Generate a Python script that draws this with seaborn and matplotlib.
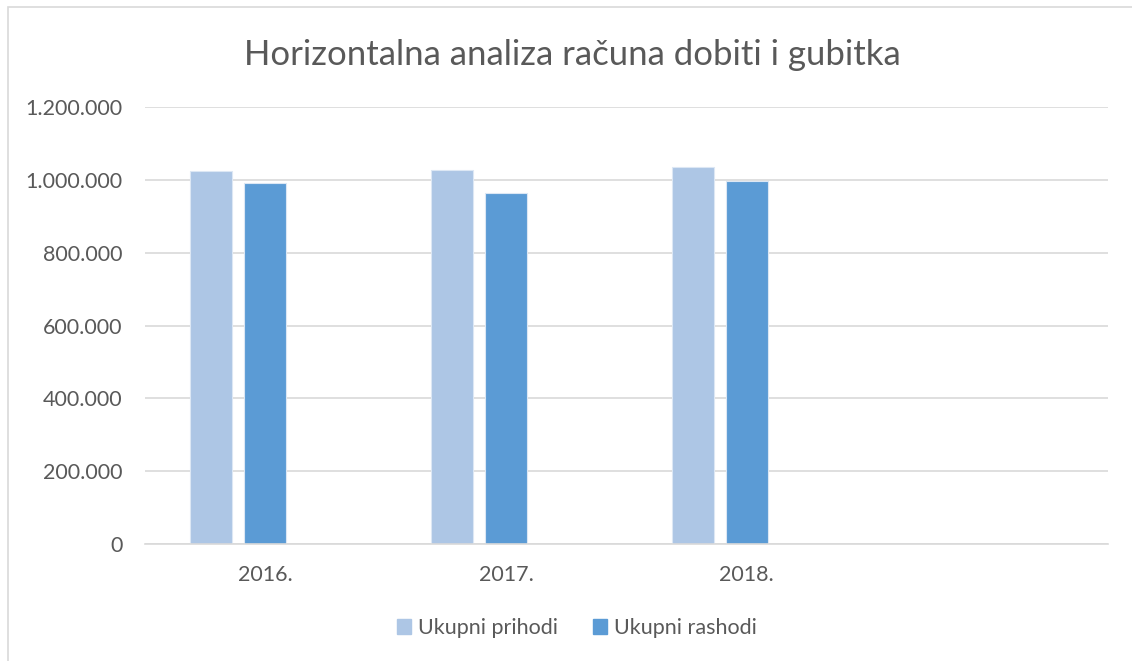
import matplotlib
matplotlib.use("Agg")
import matplotlib.pyplot as plt
import matplotlib.patches as mpatches
import seaborn as sns
import pandas as pd

years = ["2016.", "2017.", "2018."]
prihodi = [1024000, 1027500, 1036500]
rashodi = [992000, 965000, 997000]
series = ["Ukupni prihodi", "Ukupni rashodi"]
y_ticks = [0, 200000, 400000, 600000, 800000, 1000000, 1200000]
title = "Horizontalna analiza računa dobiti i gubitka"

colors = {"Ukupni prihodi": "#ADC6E5", "Ukupni rashodi": "#5B9BD5", "_empty": "#FFFFFF"}

df = pd.DataFrame({
    "year": years * 2,
    "value": prihodi + rashodi,
    "series": [series[0]] * len(years) + [series[1]] * len(years),
})

sns.set_theme(style="white")
plt.rcParams["font.family"] = ["Lato", "DejaVu Sans"]
text_color = "#595959"

fig = plt.figure(figsize=(11.32, 6.61), dpi=100)
ax = fig.add_axes([145 / 1132, 1 - 544 / 661, (1108 - 145) / 1132, (544 - 107) / 661])

order = years + [" "]
sns.barplot(data=df, x="year", y="value", hue="series",
            hue_order=series + ["_empty"], order=order,
            palette=colors, saturation=1, width=0.673, gap=0.222, legend=False,
            edgecolor="#DCE7F4", linewidth=0.8, ax=ax)

ax.set_xlim(-0.5, 3.5)
ax.set_ylim(0, 1200000)
ax.set_yticks(y_ticks)
ax.set_yticklabels([f"{v:,}".replace(",", ".") for v in y_ticks])
ax.yaxis.grid(True, color="#D9D9D9", linewidth=1.2)
ax.set_axisbelow(True)
for s in ["top", "right", "left"]:
    ax.spines[s].set_visible(False)
ax.spines["bottom"].set_color("#D9D9D9")
ax.spines["bottom"].set_linewidth(1.2)
ax.tick_params(axis="y", length=0, pad=16, labelsize=15.5, labelcolor=text_color)
ax.tick_params(axis="x", length=0, pad=15, labelsize=15.5, labelcolor=text_color)
ax.set_xlabel("")
ax.set_ylabel("")

fig.text(572 / 1132, 1 - 55 / 661, title, ha="center", va="center",
         fontsize=25, color=text_color)

handles = [mpatches.Patch(color=colors[s], label=s) for s in series]
fig.legend(handles=handles, loc="center", bbox_to_anchor=(577 / 1132, 1 - 628 / 661),
           ncol=2, frameon=False, fontsize=15.5, labelcolor=text_color,
           handlelength=0.65, handleheight=0.65, handletextpad=0.35, columnspacing=1.6)

fig.patches.append(mpatches.Rectangle((8 / 1132, -0.1), 1.2, 1 - 7 / 661 + 0.1,
                                      transform=fig.transFigure, fill=False,
                                      edgecolor="#D9D9D9", linewidth=1.2))

fig.savefig("out.png", dpi=100)
